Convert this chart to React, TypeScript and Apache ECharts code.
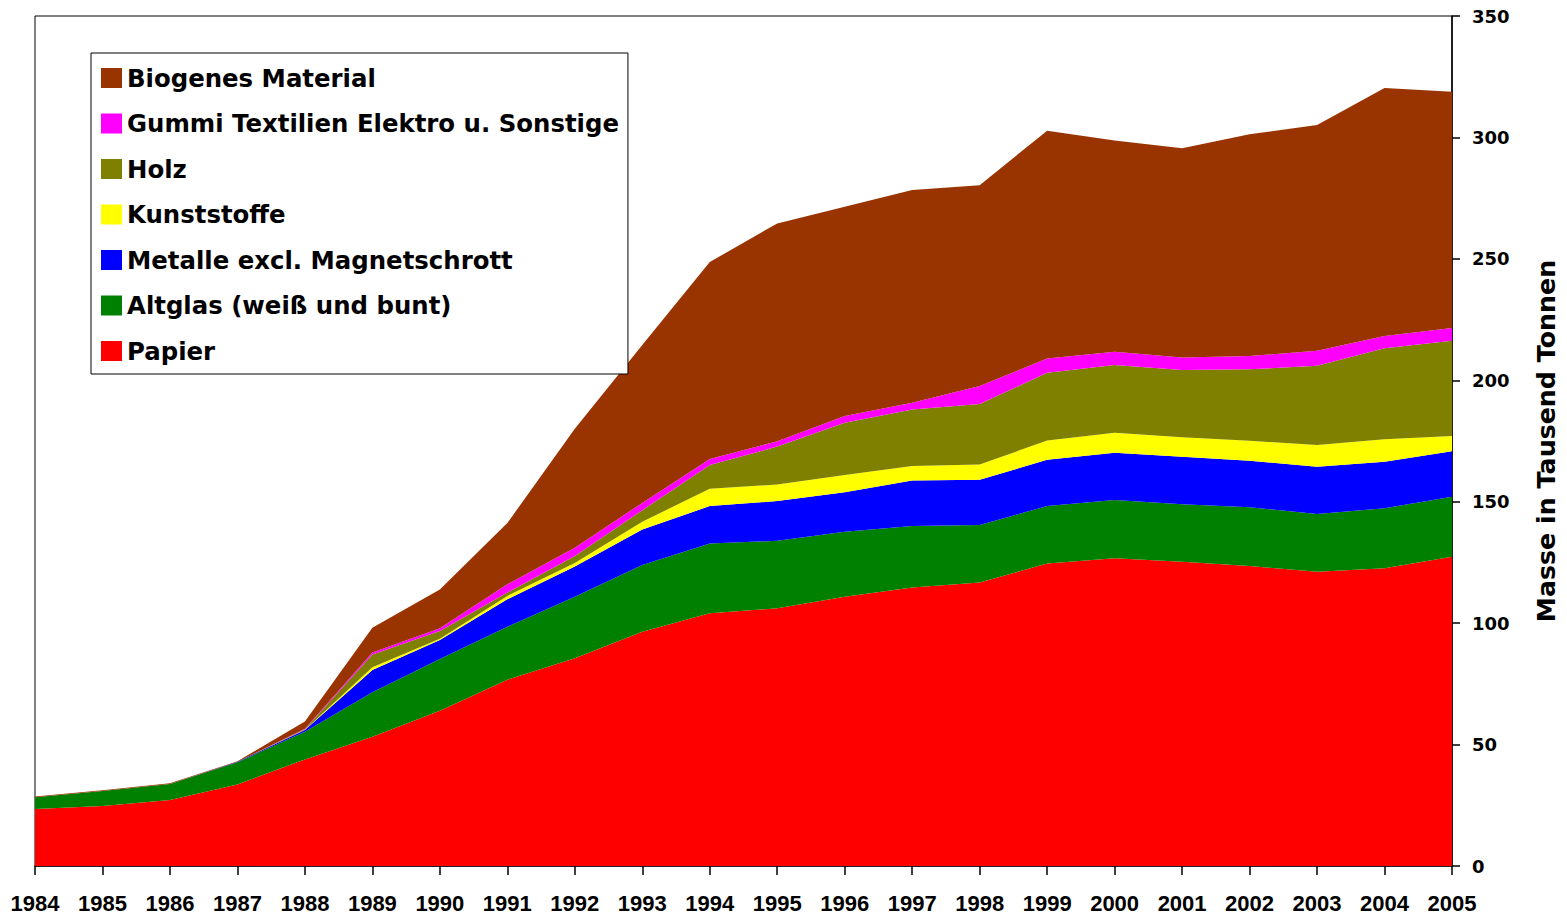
import React, { useEffect, useRef } from "react";
import * as echarts from "echarts";

const years = ["1984","1985","1986","1987","1988","1989","1990","1991","1992","1993","1994","1995","1996","1997","1998","1999","2000","2001","2002","2003","2004","2005"];

const papier = [23.5, 24.7, 27.2, 33.6, 43.9, 53.2, 63.9, 76.7, 85.5, 96.5, 104.1, 106.1, 110.9, 114.7, 116.7, 124.6, 126.7, 125.3, 123.5, 121.2, 122.6, 127.3];
const altglas = [4.8, 6.2, 6.6, 9.1, 11.4, 18.3, 21.3, 21.8, 25.4, 27.4, 28.7, 27.8, 26.7, 25.3, 23.7, 23.6, 24.0, 23.7, 24.2, 23.7, 24.7, 24.7];
const metalle = [0, 0, 0, 0.2, 0.7, 9.2, 7.9, 11.3, 12.4, 14.7, 15.4, 16.4, 16.3, 18.7, 18.6, 19.1, 19.5, 19.5, 19.2, 19.5, 19.2, 18.8];
const kunststoffe = [0, 0, 0, 0, 0.1, 1.1, 0.5, 1.4, 1.5, 3.2, 7.1, 6.8, 7.1, 6.0, 6.3, 7.9, 8.2, 8.0, 8.2, 9.0, 9.2, 6.3];
const holz = [0, 0, 0, 0, 0.2, 5.3, 3.2, 1.4, 2.8, 4.7, 9.8, 15.6, 21.5, 23.3, 24.9, 27.9, 27.9, 27.7, 29.4, 32.6, 37.5, 39.2];
const gummi = [0, 0, 0, 0, 0.2, 0.8, 1.1, 3.4, 3.4, 3.0, 2.5, 2.2, 2.8, 2.8, 7.4, 5.9, 5.5, 5.2, 5.5, 6.2, 5.0, 5.2];
const biogenes = [0.3, 0.3, 0.3, 0.2, 3.0, 10.2, 16.0, 25.2, 49.0, 65.0, 81.1, 89.7, 86.2, 87.6, 82.7, 93.8, 86.9, 86.1, 91.3, 92.9, 102.2, 97.3];

const seriesDefs = [
  { name: "Papier", data: papier, color: "#FF0000" },
  { name: "Altglas (weiß und bunt)", data: altglas, color: "#008000" },
  { name: "Metalle excl. Magnetschrott", data: metalle, color: "#0000FF" },
  { name: "Kunststoffe", data: kunststoffe, color: "#FFFF00" },
  { name: "Holz", data: holz, color: "#808000" },
  { name: "Gummi Textilien Elektro u. Sonstige", data: gummi, color: "#FF00FF" },
  { name: "Biogenes Material", data: biogenes, color: "#993300" },
];

const legendOrder = [
  "Biogenes Material",
  "Gummi Textilien Elektro u. Sonstige",
  "Holz",
  "Kunststoffe",
  "Metalle excl. Magnetschrott",
  "Altglas (weiß und bunt)",
  "Papier",
];

export default function App() {
  const ref = useRef<HTMLDivElement>(null);
  useEffect(() => {
    if (!ref.current) return;
    const chart = echarts.init(ref.current, null, { renderer: "svg" });
    chart.setOption({
      animation: false,
      backgroundColor: "#ffffff",
      grid: {
        left: 35,
        right: 115,
        top: 16,
        bottom: 52,
        show: true,
        borderColor: "#000",
        borderWidth: 1,
        containLabel: false,
      },
      legend: {
        data: legendOrder,
        orient: "vertical",
        left: 91,
        top: 53,
        padding: [13, 9, 11, 10],
        itemGap: 21.5,
        itemWidth: 21,
        itemHeight: 20,
        icon: "rect",
        borderColor: "#000",
        borderWidth: 1,
        backgroundColor: "#fff",
        textStyle: {
          fontFamily: "DejaVu Sans",
          fontWeight: "bold",
          fontSize: 24.4,
          color: "#000",
        },
      },
      xAxis: {
        type: "category",
        data: years,
        boundaryGap: false,
        axisLine: { lineStyle: { color: "#000", width: 1.5 } },
        axisTick: { show: true, length: 9, lineStyle: { color: "#000", width: 1.5 } },
        axisLabel: {
          margin: 26,
          fontFamily: "Liberation Sans",
          fontWeight: "bold",
          fontSize: 22,
          color: "#000",
          interval: 0,
        },
        splitLine: { show: false },
      },
      yAxis: {
        type: "value",
        position: "right",
        min: 0,
        max: 350,
        interval: 50,
        name: "Masse in Tausend Tonnen",
        nameLocation: "middle",
        nameRotate: 90,
        nameGap: 82,
        nameTextStyle: {
          fontFamily: "DejaVu Sans",
          fontWeight: "bold",
          fontSize: 25.3,
          color: "#000",
        },
        axisLine: { show: true, lineStyle: { color: "#000", width: 1.5 } },
        axisTick: { show: true, length: 8, lineStyle: { color: "#000", width: 1.5 } },
        axisLabel: {
          margin: 20,
          fontFamily: "DejaVu Sans",
          fontWeight: "bold",
          fontSize: 18,
          color: "#000",
        },
        splitLine: { show: false },
      },
      series: seriesDefs.map((s) => ({
        name: s.name,
        type: "line",
        stack: "total",
        data: s.data,
        showSymbol: false,
        symbol: "none",
        lineStyle: { width: 0, color: s.color },
        itemStyle: { color: s.color },
        areaStyle: { color: s.color, opacity: 1 },
        emphasis: { disabled: true },
      })),
    });
    return () => chart.dispose();
  }, []);
  return (
    <div
      ref={ref}
      style={{ position: "absolute", left: 0, top: 0, width: 1567, height: 918 }}
    />
  );
}
